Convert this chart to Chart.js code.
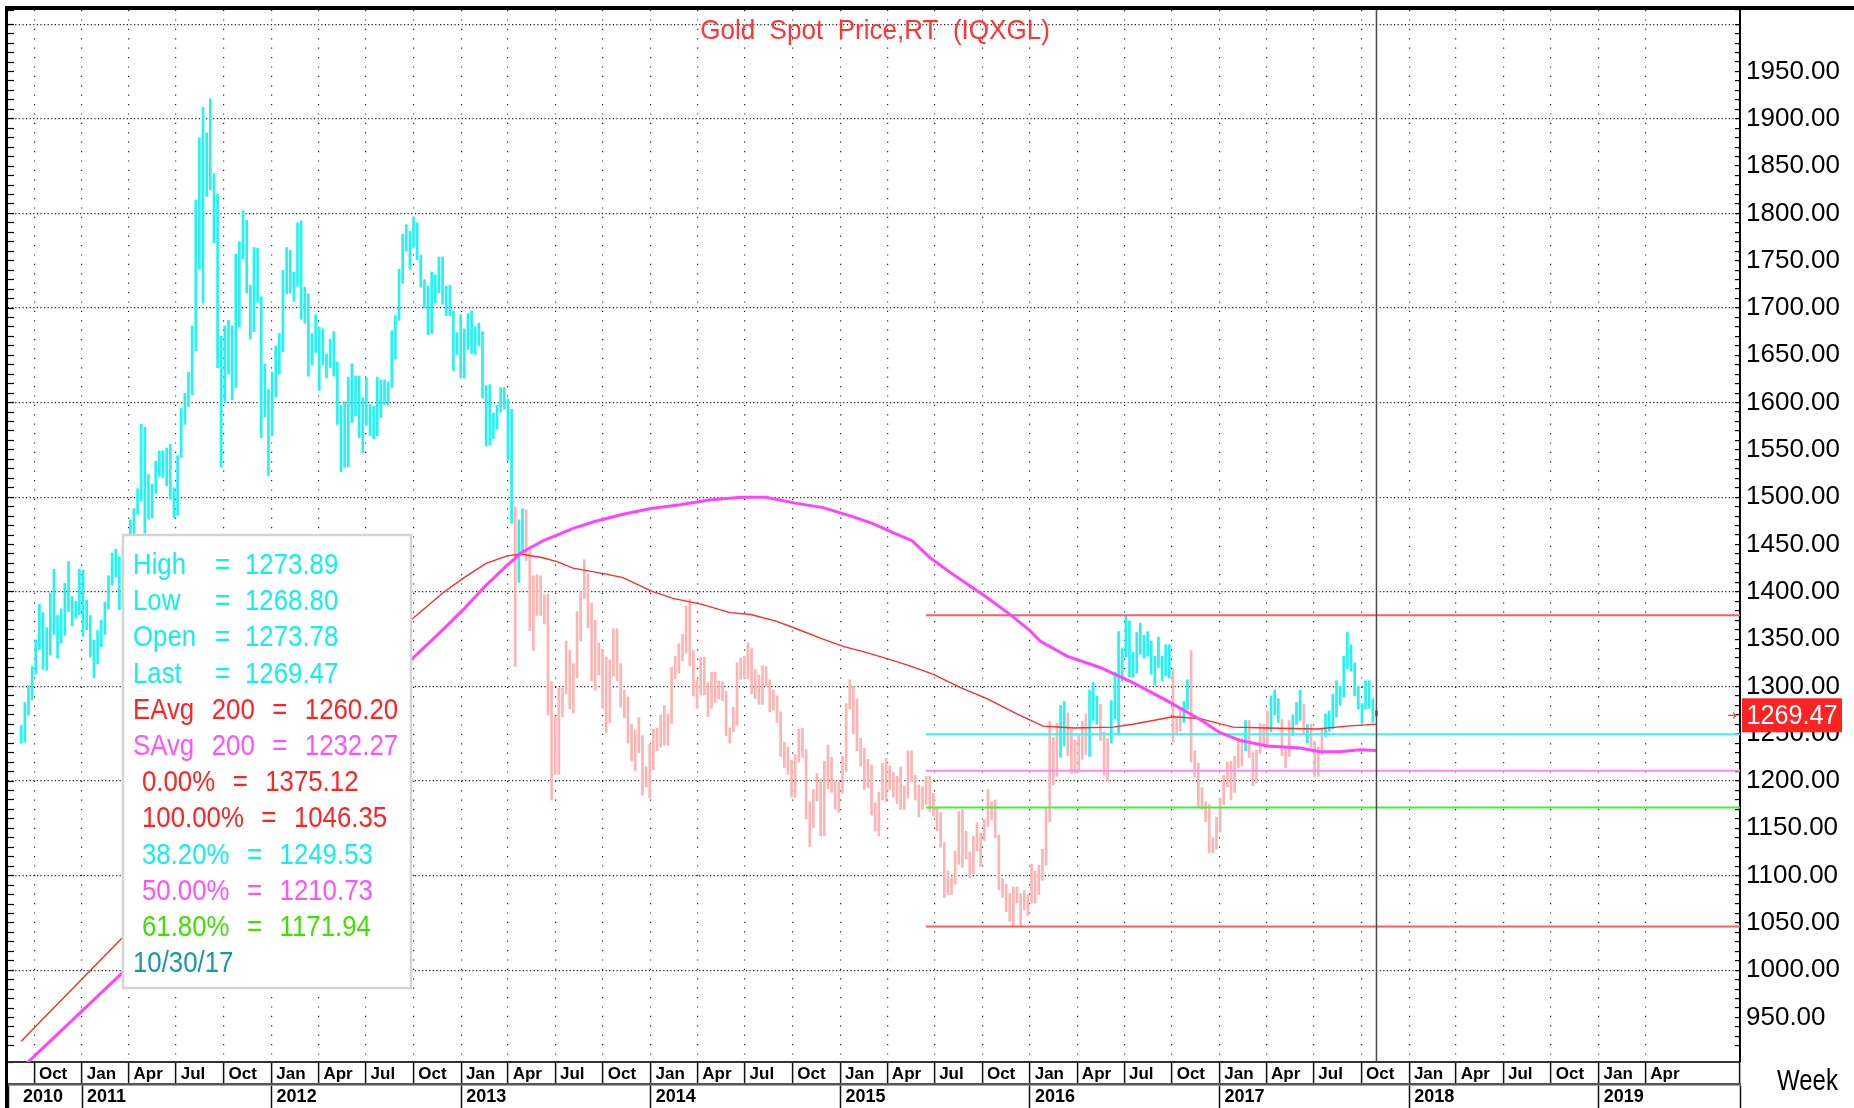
<!DOCTYPE html>
<html>
<head>
<meta charset="utf-8">
<title>Gold Spot Price,RT (IQXGL)</title>
<script src="https://cdn.jsdelivr.net/npm/chart.js@4.4.1/dist/chart.umd.min.js"></script>
<style>
  html, body { margin: 0; padding: 0; background: #fff; }
  #wrap { position: relative; width: 1854px; height: 1108px; }
</style>
</head>
<body>
<div id="wrap"><canvas id="chart-ctx"></canvas></div>
<script>
const FONT = "'Liberation Sans', Arial, sans-serif";
Chart.defaults.font.family = FONT;

// weekly bars, first bar = week of Mon 6 Sep 2010, last = week of 30 Oct 2017
const firstWeekUTC = Date.UTC(2010, 8, 6);

const weekHighs = [
  1259,1283,1301,1321,1349,1387,1378,1362,1399,1424,1375,1382,1409,1432,1395,1390,1424,
  1423,1391,1375,1349,1359,1370,1389,1417,1441,1445,1437,1447,1440,1476,1488,1509,1577,1574,1524,1514,1538,1549,1549,1552,1556,1510,1544,1594,1610,1632,1681,1814,1880,1912,1885,1921,1842,1820,1670,1681,1687,1681,1757,1770,1803,1793,1724,1764,1763,1712,1641,1614,
  1632,1660,1673,1740,1764,1761,1738,1790,1792,1722,1715,1673,1693,1680,1678,1651,1667,1675,1643,1597,1601,1627,1641,1628,1628,1605,1626,1598,1596,1627,1624,1624,1622,1676,1692,1741,1778,1788,1781,1796,1790,1756,1730,1723,1738,1735,1754,1754,1723,1724,1697,1674,1693,
  1678,1694,1697,1680,1684,1675,1618,1619,1589,1597,1616,1616,1604,1593,1490,1476,1488,1487,1444,1417,1418,1417,1397,1398,1305,1268,1298,1298,1348,1338,1324,1379,1400,1434,1419,1388,1370,1346,1339,1331,1328,1361,1361,1324,1296,1289,1260,1254,1267,1248,1215,1239,
  1255,1256,1270,1280,1271,1320,1332,1345,1355,1385,1392,1338,1307,1331,1331,1304,1315,1315,1306,1305,1295,1256,1278,1325,1330,1332,1346,1340,1318,1312,1322,1321,1307,1296,1290,1273,1241,1236,1222,1228,1255,1256,1233,1178,1191,1208,1202,1221,1238,1225,1200,1199,
  1226,1282,1307,1300,1287,1245,1235,1223,1217,1177,1188,1219,1224,1216,1209,1205,1215,1195,1232,1232,1206,1196,1194,1205,1205,1187,1172,1167,1135,1105,1098,1126,1168,1170,1147,1125,1142,1156,1145,1159,1191,1178,1180,1143,1097,1091,1081,1088,1088,1081,1084,1080,
  1112,1105,1111,1128,1172,1263,1246,1261,1280,1284,1272,1254,1243,1249,1263,1271,1296,1304,1290,1281,1252,1245,1285,1315,1358,1340,1375,1369,1336,1357,1367,1354,1358,1348,1332,1352,1332,1344,1344,1318,1268,1275,1284,1307,1338,1232,1219,1193,1178,1175,1140,1162,
  1182,1206,1220,1221,1226,1245,1245,1264,1264,1230,1233,1261,1260,1274,1290,1296,1287,1265,1236,1264,1270,1283,1296,1281,1260,1260,1242,1236,1256,1271,1274,1292,1306,1300,1332,1357,1344,1325,1300,1282,1306,1306,1287,1273.89
];
const weekLows = [
  1240,1241,1270,1286,1313,1339,1318,1317,1333,1355,1330,1346,1354,1379,1364,1372,1376,
  1353,1360,1331,1309,1324,1342,1355,1382,1407,1416,1381,1414,1413,1421,1452,1482,1496,1462,1477,1478,1504,1522,1521,1512,1498,1478,1481,1542,1577,1596,1608,1655,1741,1705,1818,1825,1769,1637,1532,1600,1630,1603,1616,1680,1752,1716,1667,1675,1706,1563,1585,1523,
  1565,1606,1630,1654,1715,1716,1707,1723,1688,1684,1628,1640,1653,1613,1640,1626,1637,1628,1577,1527,1532,1532,1579,1586,1563,1547,1576,1565,1562,1565,1584,1598,1597,1616,1646,1687,1726,1760,1741,1764,1751,1722,1700,1672,1673,1705,1716,1704,1692,1692,1634,1651,1626,
  1626,1656,1652,1651,1660,1605,1554,1555,1562,1572,1590,1593,1539,1473,1321,1410,1443,1433,1359,1338,1375,1375,1366,1270,1180,1207,1207,1268,1292,1276,1272,1309,1348,1393,1362,1306,1296,1312,1277,1251,1262,1311,1306,1278,1267,1240,1221,1211,1230,1185,1194,1182,
  1212,1232,1236,1238,1238,1261,1308,1314,1327,1335,1322,1290,1277,1291,1291,1268,1277,1283,1287,1285,1248,1240,1252,1259,1308,1309,1308,1292,1287,1281,1281,1300,1273,1275,1262,1226,1214,1207,1183,1183,1220,1225,1160,1131,1151,1179,1142,1142,1192,1188,1170,1167,
  1187,1210,1276,1250,1232,1216,1191,1193,1164,1147,1142,1180,1178,1191,1183,1176,1170,1170,1182,1200,1180,1162,1170,1175,1168,1163,1147,1130,1077,1080,1080,1091,1112,1109,1118,1098,1102,1126,1110,1137,1152,1159,1140,1085,1077,1062,1052,1046,1071,1047,1064,1058,
  1071,1071,1080,1095,1111,1157,1196,1205,1225,1237,1227,1208,1208,1212,1223,1228,1226,1264,1260,1243,1206,1200,1240,1266,1250,1306,1331,1310,1310,1314,1334,1330,1332,1313,1302,1320,1306,1311,1309,1241,1250,1253,1262,1276,1220,1204,1172,1170,1157,1124,1124,1128,
  1146,1175,1194,1180,1188,1214,1216,1232,1225,1195,1198,1229,1238,1238,1252,1270,1262,1227,1214,1226,1248,1260,1264,1250,1240,1236,1205,1205,1228,1247,1253,1255,1268,1280,1289,1319,1316,1290,1276,1261,1276,1277,1262,1268.80
];
const weekCloses = [
  1246,1275,1297,1317,1346,1372,1328,1357,1394,1367,1353,1363,1406,1385,1379,1380,1421,
  1369,1361,1343,1341,1348,1361,1388,1409,1429,1421,1418,1431,1429,1474,1486,1504,1556,1491,1493,1512,1536,1542,1529,1539,1501,1486,1542,1594,1601,1628,1663,1744,1852,1827,1876,1856,1812,1657,1620,1636,1682,1642,1746,1755,1788,1724,1686,1746,1712,1598,1606,1565,
  1617,1631,1665,1739,1725,1724,1725,1776,1710,1712,1657,1662,1668,1631,1659,1642,1663,1645,1580,1592,1573,1622,1591,1626,1572,1599,1580,1590,1583,1620,1605,1620,1616,1671,1691,1739,1772,1774,1772,1781,1758,1723,1712,1676,1731,1714,1751,1712,1702,1696,1657,1656,1656,
  1662,1687,1658,1667,1667,1609,1573,1576,1577,1592,1608,1596,1580,1476,1404,1462,1469,1437,1365,1386,1392,1383,1388,1297,1234,1223,1277,1295,1322,1310,1313,1375,1396,1396,1386,1308,1333,1337,1309,1272,1315,1352,1314,1287,1288,1244,1250,1230,1235,1203,1213,1238,
  1249,1253,1270,1240,1262,1319,1323,1326,1339,1379,1333,1294,1303,1318,1294,1301,1302,1290,1293,1292,1250,1252,1274,1315,1316,1320,1337,1310,1307,1294,1309,1305,1280,1287,1268,1231,1215,1218,1192,1222,1238,1231,1171,1177,1187,1197,1175,1191,1222,1195,1195,1186,
  1216,1276,1293,1283,1234,1227,1203,1213,1167,1152,1182,1199,1201,1206,1203,1178,1178,1188,1225,1204,1190,1168,1180,1201,1173,1168,1157,1133,1099,1095,1094,1113,1160,1134,1121,1107,1137,1145,1137,1156,1177,1162,1142,1088,1081,1076,1056,1085,1075,1065,1076,1061,
  1097,1089,1097,1118,1158,1239,1228,1222,1270,1258,1255,1220,1221,1243,1234,1232,1293,1289,1273,1252,1216,1243,1275,1298,1322,1340,1366,1327,1322,1351,1336,1336,1341,1321,1327,1328,1310,1338,1316,1257,1252,1266,1276,1304,1225,1209,1178,1177,1160,1133,1132,1151,
  1173,1196,1210,1190,1220,1234,1238,1257,1226,1202,1229,1244,1249,1254,1285,1284,1268,1227,1228,1254,1268,1279,1266,1254,1256,1242,1209,1228,1254,1269,1258,1289,1284,1291,1325,1346,1320,1297,1280,1275,1304,1280,1272,1269.47
];

// 200-week averages (decimal years)
const emaDates = [2010.679, 2011.211, 2012.740, 2012.904, 2013.015, 2013.131, 2013.242, 2013.315, 2013.431, 2013.505,
  2013.590, 2013.758, 2013.853, 2014.001, 2014.117, 2014.265, 2014.418, 2014.528, 2014.660, 2014.755,
  2014.908, 2015.019, 2015.135, 2015.267, 2015.362, 2015.488, 2015.631, 2015.773, 2015.931, 2016.069,
  2016.227, 2016.438, 2016.543, 2016.754, 2016.897, 2017.071, 2017.250, 2017.514, 2017.672, 2017.828];
const emaValues = [925, 1034, 1371, 1399, 1415, 1430, 1438, 1440, 1436, 1432,
  1425, 1419, 1415, 1401, 1393, 1387, 1378, 1376, 1369, 1362,
  1350, 1342, 1336, 1328, 1322, 1313, 1299, 1287, 1271, 1258,
  1256, 1257, 1260, 1268, 1266, 1257, 1256, 1255, 1258, 1260.2];

const smaDates = [2010.679, 2011.211, 2012.740, 2012.904, 2013.015, 2013.131, 2013.242, 2013.315, 2013.431, 2013.505,
  2013.590, 2013.700, 2013.853, 2014.001, 2014.154, 2014.307, 2014.476, 2014.608, 2014.755, 2014.908,
  2015.056, 2015.172, 2015.283, 2015.378, 2015.473, 2015.583, 2015.699, 2015.773, 2015.889, 2016.000,
  2016.053, 2016.195, 2016.369, 2016.543, 2016.722, 2016.897, 2017.002, 2017.108, 2017.250, 2017.424,
  2017.530, 2017.635, 2017.741, 2017.828];
const smaValues = [896, 997, 1329, 1360, 1382, 1407, 1428, 1441, 1454, 1460,
  1467, 1474, 1482, 1488, 1492, 1497, 1500, 1500, 1494, 1489,
  1480, 1472, 1462, 1454, 1436, 1420, 1404, 1394, 1377, 1359,
  1348, 1332, 1320, 1304, 1285, 1265, 1251, 1243, 1237, 1235,
  1231, 1231, 1233, 1232.27];

const fibLevels = [1375.12, 1249.53, 1210.73, 1171.94, 1046.35];
const fibStart = 2015.451;

const monthNames = ['Jan', 'Apr', 'Jul', 'Oct'];
const yearNames = ['2010', '2011', '2012', '2013', '2014', '2015', '2016', '2017', '2018', '2019'];

const legendLabels = ['High', 'Low', 'Open', 'Last', 'EAvg 200', 'SAvg 200', '0.00%', '100.00%', '38.20%', '50.00%', '61.80%', '10/30/17'];
const legendValues = ['1273.89', '1268.80', '1273.78', '1269.47', '1260.20', '1232.27', '1375.12', '1046.35', '1249.53', '1210.73', '1171.94', ''];
const lastPrice = '1269.47';

// axis ranges
const xMin = 2010.6097, xMax = 2019.7448;
const yMin = 903, yMax = 2015;

// colours
const CYAN = '#14eeee', RED = '#ff2424', MAGENTA = '#ff52ff', GREEN = '#3fe000', TEAL = '#1898a2';
const fibColors = ['#ff5c5c', '#3ef2f2', '#ff86ff', '#3cf03c', '#ff5c5c'];

function decYear(ms) {
  const y = new Date(ms).getUTCFullYear();
  const a = Date.UTC(y, 0, 1), b = Date.UTC(y + 1, 0, 1);
  return y + (ms - a) / (b - a);
}
function interp(xs, ys, t) {
  if (t <= xs[0]) return ys[0];
  for (let i = 1; i < xs.length; i++) {
    if (t <= xs[i]) return ys[i - 1] + (ys[i] - ys[i - 1]) * (t - xs[i - 1]) / (xs[i] - xs[i - 1]);
  }
  return ys[ys.length - 1];
}

const weekDates = weekHighs.map((h, i) => decYear(firstWeekUTC + i * 7 * 86400000));
const lastDate = weekDates[weekDates.length - 1];

const barColors = weekDates.map((t, i) => {
  if (i === weekDates.length - 1) return '#ff2a2a';
  return weekCloses[i] > interp(emaDates, emaValues, t) ? '#22f4f4' : '#ffb4b4';
});

// quarter ticks Oct 2010 .. Apr 2019, then the right edge
const monthTicks = [];
const monthTickLabels = [];
for (let y = 2010; y <= 2019; y++) {
  for (let q = 0; q < 4; q++) {
    const t = decYear(Date.UTC(y, q * 3, 1));
    if (t > xMin && t < 2019.3) {
      monthTicks.push(t);
      monthTickLabels.push(' ' + monthNames[q]);
    }
  }
}
monthTicks.push(xMax); monthTickLabels.push('');

const yearTicks = [xMin];
const yearTickLabels = ['   ' + yearNames[0]];
for (let i = 1; i < yearNames.length; i++) {
  yearTicks.push(decYear(Date.UTC(Number(yearNames[i]), 0, 1)));
  yearTickLabels.push(' ' + yearNames[i]);
}
yearTicks.push(xMax); yearTickLabels.push('');

function squeeze(c, text, x, y, sx) {
  c.save();
  c.translate(x, y);
  c.scale(sx, 1);
  c.fillText(text, 0, 0);
  c.restore();
}

const legendColors = [CYAN, CYAN, CYAN, CYAN, RED, MAGENTA, RED, RED, CYAN, MAGENTA, GREEN, TEAL];

const overlay = {
  id: 'overlay',
  afterDatasetsDraw(chart) {
    const c = chart.ctx;
    c.save();
    c.fillStyle = '#fff';
    c.fillRect(123, 535, 288, 453);
    c.strokeStyle = '#d4d4d4';
    c.lineWidth = 2.5;
    c.strokeRect(123, 535, 288, 453);
    c.font = '30px ' + FONT;
    c.textBaseline = 'alphabetic';
    const sx = 0.86;
    legendLabels.forEach((label, i) => {
      const y = 574 + i * 36.2;
      c.fillStyle = legendColors[i];
      if (i < 4) {
        squeeze(c, label, 133, y, sx);
        squeeze(c, '=', 215, y, sx);
        squeeze(c, legendValues[i], 245, y, sx);
        return;
      }
      const parts = label.split(' ');
      if (legendValues[i]) parts.push('=', legendValues[i]);
      let x = i < 6 || i === 11 ? 133 : 142;
      parts.forEach(p => {
        squeeze(c, p, x, y, sx);
        x += c.measureText(p).width * sx + 17.5;
      });
    });
    c.restore();
  },
  afterDraw(chart) {
    const c = chart.ctx;
    const area = chart.chartArea;
    c.save();
    // frame
    c.fillStyle = '#000';
    c.fillRect(5, 6, chart.width - 5, 4);
    c.fillRect(5, 6, 3, chart.height - 6);
    // title
    c.font = '28px ' + FONT;
    c.fillStyle = '#ff3434';
    c.textBaseline = 'alphabetic';
    const title = 'Gold  Spot  Price,RT  (IQXGL)';
    const tw = c.measureText(title).width * 0.93;
    squeeze(c, title, 875 - tw / 2, 39, 0.93);
    // last price tag
    const py = chart.scales.y.getPixelForValue(Number(lastPrice));
    c.fillStyle = '#ff2222';
    c.fillRect(area.right + 2, py - 17, 100, 34);
    c.fillStyle = '#fff';
    c.font = '28px ' + FONT;
    c.textBaseline = 'middle';
    const pw = c.measureText(lastPrice).width * 0.9;
    squeeze(c, lastPrice, area.right + 52 - pw / 2, py + 1, 0.9);
    c.strokeStyle = '#ff4040';
    c.lineWidth = 1.2;
    c.beginPath();
    c.moveTo(area.right - 12, py); c.lineTo(area.right - 4, py);
    c.moveTo(area.right - 7, py - 3); c.lineTo(area.right - 4, py); c.lineTo(area.right - 7, py + 3);
    c.stroke();
    // week label
    c.fillStyle = '#000';
    c.font = '30px ' + FONT;
    c.textBaseline = 'alphabetic';
    squeeze(c, 'Week', 1777, 1090, 0.8);
    c.restore();
  }
};

const datasets = [
  {
    type: 'line', label: 'now',
    data: [{ x: lastDate, y: yMin }, { x: lastDate, y: yMax }],
    borderColor: '#4a4a4a', borderWidth: 1.5, pointRadius: 0,
  },
  {
    type: 'line', label: 'SAvg 200',
    data: smaDates.map((t, i) => ({ x: t, y: smaValues[i] })),
    borderColor: '#ff44ff', borderWidth: 3, pointRadius: 0, tension: 0,
  },
  {
    type: 'line', label: 'EAvg 200',
    data: emaDates.map((t, i) => ({ x: t, y: emaValues[i] })),
    borderColor: '#ff2a2a', borderWidth: 1.4, pointRadius: 0, tension: 0,
  },
  ...fibLevels.map((v, i) => ({
    type: 'line', label: 'fib ' + v,
    data: [{ x: fibStart, y: v }, { x: xMax, y: v }],
    borderColor: fibColors[i], borderWidth: 2, pointRadius: 0,
  })),
  {
    type: 'bar', label: 'IQXGL',
    data: weekDates.map((t, i) => ({ x: t, y: [weekLows[i], weekHighs[i]] })),
    backgroundColor: barColors, borderWidth: 0, barThickness: 2, grouped: false,
  },
];

const ctx = document.getElementById('chart-ctx');
new Chart(ctx, {
  type: 'line',
  data: { datasets: datasets },
  options: {
    responsive: true,
    maintainAspectRatio: false,
    animation: false,
    events: [],
    layout: { padding: { top: 10 } },
    plugins: {
      legend: { display: false },
      tooltip: { enabled: false },
      title: { display: false },
    },
    scales: {
      x: {
        type: 'linear', axis: 'x', position: 'bottom', min: xMin, max: xMax, offset: false,
        grid: {
          drawOnChartArea: true, offset: false, color: '#2a2a2a', lineWidth: 1.2,
          drawTicks: true, tickLength: 22, tickColor: '#111', tickWidth: 1.5, tickBorderDash: [],
        },
        border: { display: true, color: '#333', width: 2, dash: [1.2, 8.2] },
        ticks: {
          autoSkip: false, maxRotation: 0, minRotation: 0, align: 'start', padding: -20,
          color: '#000', font: { size: 17, weight: 'bold' },
          callback: (v, i) => monthTickLabels[i],
        },
        afterBuildTicks: s => { s.ticks = monthTicks.map(v => ({ value: v })); },
        afterFit: s => { s.height = 22; s.paddingLeft = 0; s.paddingRight = 0; },
      },
      x2: {
        type: 'linear', axis: 'x', position: 'bottom', weight: 1, min: xMin, max: xMax, offset: false,
        grid: { drawOnChartArea: false, offset: false, tickLength: 24, tickColor: '#111', tickWidth: 1.5 },
        border: { display: true, color: '#555', width: 2.5 },
        ticks: {
          autoSkip: false, maxRotation: 0, minRotation: 0, align: 'start', padding: -22,
          color: '#000', font: { size: 18, weight: 'bold' },
          callback: (v, i) => yearTickLabels[i],
        },
        afterBuildTicks: s => { s.ticks = yearTicks.map(v => ({ value: v })); },
        afterFit: s => { s.height = 24; s.paddingLeft = 0; s.paddingRight = 0; },
      },
      y: {
        type: 'linear', axis: 'y', position: 'right', min: yMin, max: yMax,
        grid: {
          drawOnChartArea: true,
          color: c => (c.tick && c.tick.value % 100 === 0) ? '#1e1e1e' : 'rgba(0,0,0,0)',
          lineWidth: 1.2, tickLength: -5, tickColor: '#000', tickWidth: 1.2,
        },
        border: { display: true, color: '#000', width: 2, dash: [1.2, 2.4] },
        ticks: {
          stepSize: 10, autoSkip: false, padding: 11, color: '#000', font: { size: 26 },
          callback: v => (v % 50 === 0 && v >= 950 && v <= 1950) ? v.toFixed(2) : '',
        },
        afterFit: s => { s.width = 114; s.paddingTop = 0; s.paddingBottom = 0; },
      },
      yl: {
        type: 'linear', axis: 'y', position: 'left', min: yMin, max: yMax,
        grid: { drawOnChartArea: false, tickLength: -6, tickColor: '#000', tickWidth: 1.2 },
        border: { display: false },
        ticks: { display: false, stepSize: 10, autoSkip: false },
        afterFit: s => { s.width = 8; s.paddingTop = 0; s.paddingBottom = 0; },
      },
    },
  },
  plugins: [overlay],
});
</script>
</body>
</html>
